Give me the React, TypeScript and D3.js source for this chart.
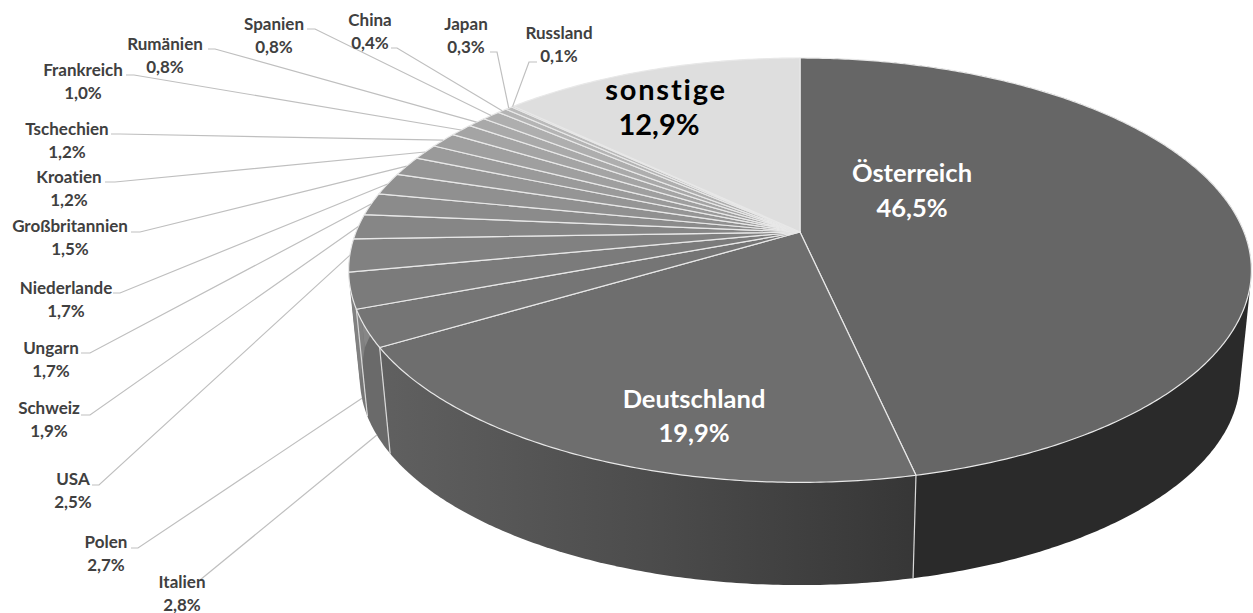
import React from "react";
import * as d3 from "d3";

// Besucheranteile nach Herkunftsland, im Uhrzeigersinn ab 12 Uhr
const countries = ["Österreich","Deutschland","Italien","Polen","USA","Schweiz","Ungarn","Niederlande","Großbritannien","Kroatien","Tschechien","Frankreich","Rumänien","Spanien","China","Japan","Russland","sonstige"];
const shares = [46.5,19.9,2.8,2.7,2.5,1.9,1.7,1.7,1.5,1.2,1.2,1.0,0.8,0.8,0.4,0.3,0.1,12.9];

const topShades = ["#666666","#6e6e6e","#757575","#7b7b7b","#818181","#868686","#8b8b8b","#909090","#959595","#9a9a9a","#9f9f9f","#a4a4a4","#a9a9a9","#aeaeae","#b4b4b4","#bababa","#c2c2c2","#dedede"];
const wallShades = ["#2a2a2a","url(#wallDe)","#6a6a6a","#767676","#818181","#868686","#8b8b8b","#909090","#959595","#9a9a9a","#9f9f9f","#a4a4a4","#a9a9a9","#aeaeae","#b4b4b4","#bababa","#c2c2c2","#dedede"];

type Callout = { cx: number; nameY: number; from?: [number, number]; elbow?: [number, number]; onBase?: boolean };
// Beschriftung der kleinen Segmente: Textmitte, Grundlinie, Ansatz der Führungslinie
const callouts: Record<string, Callout> = {
  Italien: { cx: 182, nameY: 588, from: [200, 580], onBase: true },
  Polen: { cx: 106, nameY: 548, from: [131, 548], elbow: [138, 548], onBase: true },
  USA: { cx: 73, nameY: 485, from: [92, 485], elbow: [99, 485] },
  Schweiz: { cx: 49, nameY: 414, from: [81, 415], elbow: [90, 415] },
  Ungarn: { cx: 51, nameY: 354, from: [81, 353], elbow: [90, 353] },
  Niederlande: { cx: 66, nameY: 294, from: [113, 293], elbow: [120, 293] },
  "Großbritannien": { cx: 70, nameY: 232, from: [131, 232], elbow: [140, 232] },
  Kroatien: { cx: 69, nameY: 183, from: [105, 182], elbow: [115, 182] },
  Tschechien: { cx: 67, nameY: 135, from: [111, 134], elbow: [120, 134] },
  Frankreich: { cx: 83, nameY: 76, from: [126, 75], elbow: [134, 75] },
  "Rumänien": { cx: 165, nameY: 50, from: [208, 49], elbow: [215, 49] },
  Spanien: { cx: 274, nameY: 30, from: [307, 29], elbow: [315, 29] },
  China: { cx: 370, nameY: 26, from: [391, 48], elbow: [397, 48] },
  Japan: { cx: 466, nameY: 30, from: [490, 52], elbow: [497, 52] },
  Russland: { cx: 559, nameY: 39, from: [537, 62], elbow: [529, 62] },
};
const bigLabels: Record<string, { cx: number; valueCx: number; nameY: number; gap: number; size: number; nameSpacing: number; fill: string }> = {
  "Österreich": { cx: 912, valueCx: 912, nameY: 182, gap: 35, size: 25.5, nameSpacing: 0, fill: "#ffffff" },
  Deutschland: { cx: 694, valueCx: 694, nameY: 408, gap: 34, size: 25.5, nameSpacing: 0, fill: "#ffffff" },
  sonstige: { cx: 666, valueCx: 659, nameY: 100, gap: 35, size: 29, nameSpacing: 1.8, fill: "#000000" },
};

const W = 1253;
const H = 613;
const apex: [number, number] = [800, 232];
const baseApex: [number, number] = [800, 341];
const baseScale = 0.975;
const persp = -0.18;
const radiusX = 444;
const radiusY = 205.3;

// Perspektivische Abbildung des Kreiswinkels auf Deck- oder Bodenfläche
function project(theta: number, onBase = false): [number, number] {
  const u = Math.sin(theta);
  const v = -Math.cos(theta);
  const w = 1 + persp * v;
  const x = (radiusX * u) / w;
  const y = (radiusY * v) / w;
  return onBase
    ? [baseApex[0] + baseScale * x, baseApex[1] + baseScale * y]
    : [apex[0] + x, apex[1] + y];
}

const arcAngles = (a0: number, a1: number) => {
  const n = Math.max(2, Math.ceil((a1 - a0) / 0.01));
  return d3.range(n + 1).map((i) => a0 + ((a1 - a0) * i) / n);
};
const line = d3.line<[number, number]>();
const fmt = (v: number) => v.toFixed(1).replace(".", ",") + "%";

export default function App() {
  const arcs = d3.pie<number>().sort(null).value((d) => d)(shares);
  const font = "Lato, 'Open Sans', sans-serif";
  return (
    <svg width={W} height={H} viewBox={`0 0 ${W} ${H}`} style={{ position: "absolute", left: 0, top: 0, background: "#fff", fontVariantLigatures: "none" }} fontFamily={font}>
      <defs>
        <linearGradient id="wallDe" gradientUnits="userSpaceOnUse" x1={380} x2={919} y1={0} y2={0}>
          <stop offset="0" stopColor="#606060" />
          <stop offset="0.5" stopColor="#4c4c4c" />
          <stop offset="1" stopColor="#363636" />
        </linearGradient>
      </defs>
      {/* Mantelfläche: konvexe Hülle aus Deck- und Bodenkante je Segment */}
      {arcs.map((a, i) => {
        if (a.startAngle > (3 * Math.PI) / 2) return null;
        const angles = arcAngles(a.startAngle, a.endAngle);
        const hull = d3.polygonHull([...angles.map((t) => project(t)), ...angles.map((t) => project(t, true))]);
        return <path key={i} d={line(hull ?? []) + "Z"} fill={wallShades[i]} />;
      })}
      {arcs.slice(0, 3).map((a, i) => (
        <path key={i} d={line([project(a.endAngle), project(a.endAngle, true)]) ?? ""} stroke="#d9d9d9" strokeWidth={1.2} fill="none" />
      ))}
      {/* Deckfläche */}
      {arcs.map((a, i) => {
        const pts = [apex, ...arcAngles(a.startAngle, a.endAngle).map((t) => project(t))];
        return <path key={i} d={line(pts) + "Z"} fill={topShades[i]} stroke="#e8e8e8" strokeWidth={1.2} strokeLinejoin="round" />;
      })}
      {/* Führungslinien */}
      {arcs.map((a, i) => {
        const c = callouts[countries[i]];
        if (!c || !c.from) return null;
        const mid = (a.startAngle + a.endAngle) / 2;
        const pts = [c.from, ...(c.elbow ? [c.elbow] : []), project(mid, !!c.onBase)];
        return <path key={i} d={line(pts) ?? ""} fill="none" stroke="#bfbfbf" strokeWidth={1.2} />;
      })}
      {countries.map((name, i) => {
        const c = callouts[name];
        if (!c) return null;
        return (
          <text key={name} textAnchor="middle" fontWeight={700} fontSize={17} fill="#404040">
            <tspan x={c.cx} y={c.nameY}>{name}</tspan>
            <tspan x={c.cx} y={c.nameY + 22.5}>{fmt(shares[i])}</tspan>
          </text>
        );
      })}
      {countries.map((name, i) => {
        const b = bigLabels[name];
        if (!b) return null;
        return (
          <text key={name} textAnchor="middle" fontWeight={700} fontSize={b.size} fill={b.fill}>
            <tspan x={b.cx} y={b.nameY} letterSpacing={b.nameSpacing}>{name}</tspan>
            <tspan x={b.valueCx} y={b.nameY + b.gap}>{fmt(shares[i])}</tspan>
          </text>
        );
      })}
    </svg>
  );
}
